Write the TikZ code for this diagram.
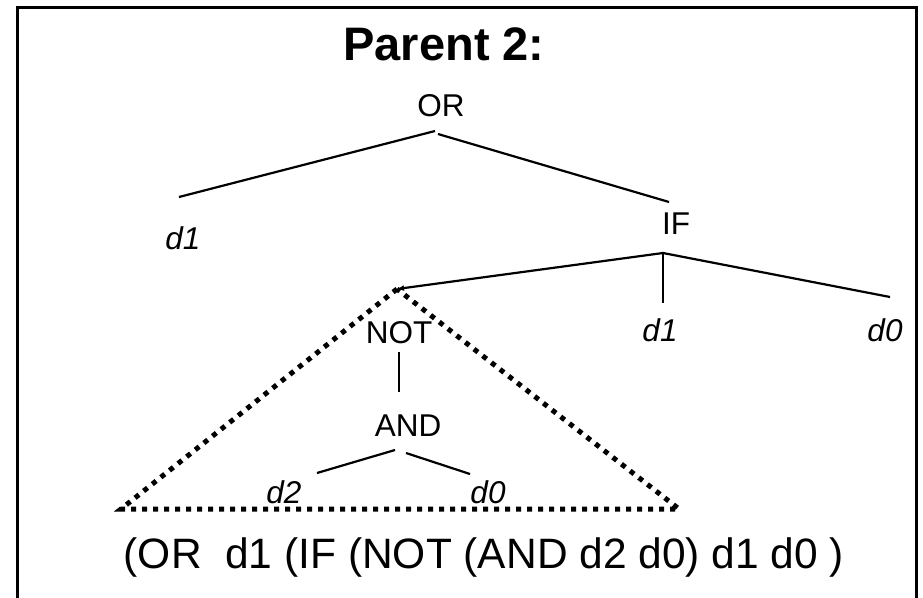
\documentclass[tikz,border=0pt]{standalone}
\usepackage{fontspec}
\setmainfont{Liberation Sans}
\usetikzlibrary{arrows.meta}

\begin{document}
\begin{tikzpicture}[x=1pt,y=-1pt,>={Latex[length=7pt,width=6pt]}]
  \tikzset{op/.style   = {anchor=base,inner sep=0pt,font=\fontsize{31.5}{36}\selectfont},
           term/.style = {op,font=\fontsize{31.5}{36}\selectfont\itshape},
           branch/.style  = {line width=2.2pt},
           stem/.style    = {line width=1.6pt},
           subtree/.style = {line width=5pt,dash pattern=on 5pt off 6pt}}
  \useasboundingbox (0,0) rectangle (923,597);
  \clip (0,0) rectangle (923,597);

  % frame, runs off the bottom
  \draw[line width=3pt] (17,620) -- (17,7) -- (916,7) -- (916,620);

  \node[anchor=base,font=\fontsize{47}{56}\selectfont\bfseries] (title) at (444,60) {Parent 2:};

  % the tree
  \node[op]   (or)  at (441,116) {OR};
  \node[term] (d1a) at (183,249) {d1};
  \node[op]   (if)  at (676,234) {IF};
  \node[op]   (not) at (399,343) {NOT};
  \node[term] (d1b) at (660,341) {d1};
  \node[term] (d0a) at (885,341) {d0};
  \node[op]   (and) at (408,436) {AND};
  \node[term] (d2)  at (284,503) {d2};
  \node[term] (d0b) at (488,503) {d0};

  % branch ends
  \coordinate (or-l)  at (435,131);
  \coordinate (or-r)  at (438,134);
  \coordinate (d1a-t) at (179,197);
  \coordinate (if-t)  at (669,202);
  \coordinate (if-b)  at (663,253);
  \coordinate (d1b-t) at (663,303);
  \coordinate (d0a-t) at (890,297);
  \coordinate (not-b) at (399,352);
  \coordinate (and-t) at (399,392);
  \coordinate (and-l) at (395,450);
  \coordinate (and-r) at (406,453);
  \coordinate (d2-t)  at (317,473);
  \coordinate (d0b-t) at (470,474);

  % subtree that gets swapped
  \coordinate (apex)  at (397,289);
  \coordinate (leftc) at (121,509);
  \coordinate (rightc) at (679,509);

  \draw[branch] (or-l) -- (d1a-t);
  \draw[branch] (or-r) -- (if-t);
  \draw[branch] (if-b) -- (d0a-t);
  \draw[stem]   (if-b) -- (d1b-t);
  \draw[branch,->] (if-b) -- (apex);
  \draw[stem]   (not-b) -- (and-t);
  \draw[branch] (and-l) -- (d2-t);
  \draw[branch] (and-r) -- (d0b-t);

  \draw[subtree] (apex) -- (leftc) -- (rightc) -- cycle;

  \node[anchor=base,font=\fontsize{42.5}{50}\selectfont] (prefix) at (484,568)
    {(OR\ \ d1 (IF (NOT (AND d2 d0) d1 d0 )};
\end{tikzpicture}
\end{document}
